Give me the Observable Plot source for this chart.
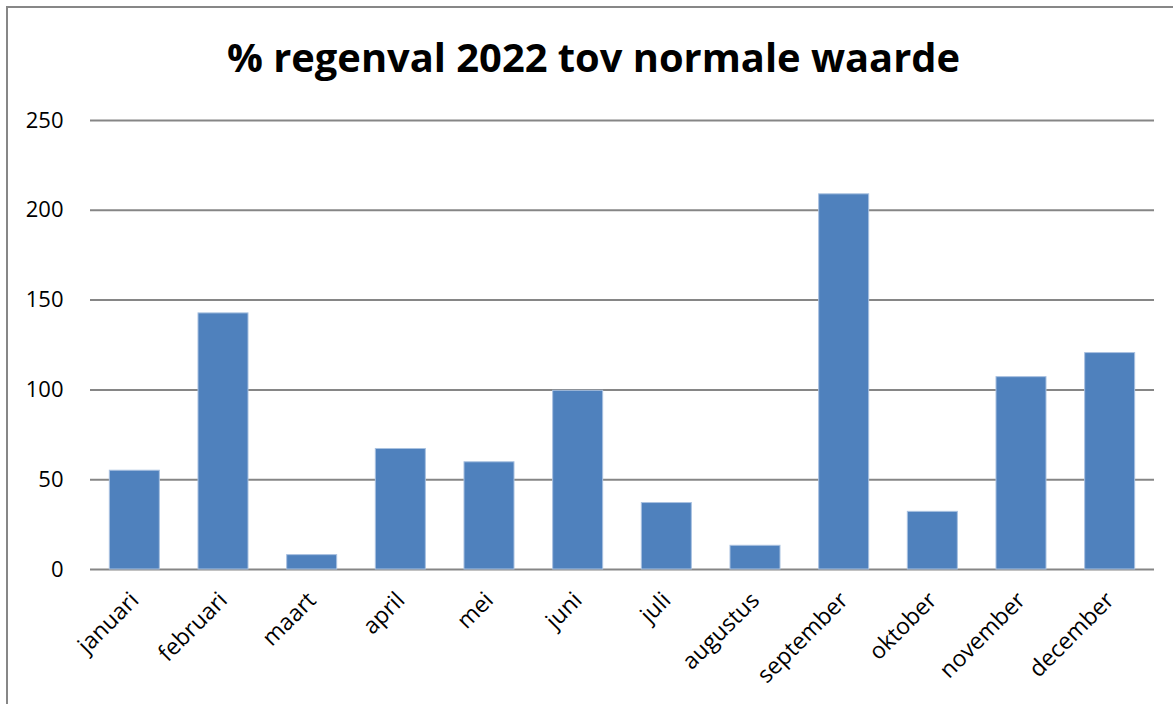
<!DOCTYPE html>
<html>
<head>
<meta charset="utf-8">
<script src="https://cdn.jsdelivr.net/npm/d3@7"></script>
<script src="https://cdn.jsdelivr.net/npm/@observablehq/plot@0.6"></script>
<style>
  html, body { margin: 0; padding: 0; background: #fff; overflow: hidden; }
  #frame { position: absolute; left: 6px; top: 6px; width: 1400px; height: 900px; border: 2px solid #878787; box-sizing: border-box; }
  #title { position: absolute; left: 0; top: 0; }
  #chart { position: absolute; left: 0; top: 0; }
</style>
</head>
<body>
<div id="frame"></div>
<svg id="title" width="1173" height="110"></svg>
<div id="chart"></div>
<script>
const titleText = "% regenval 2022 tov normale waarde";
const months = ["januari","februari","maart","april","mei","juni","juli","augustus","september","oktober","november","december"];
const values = [55.0, 142.6, 8.0, 67.1, 59.7, 99.5, 37.0, 13.2, 208.9, 32.1, 107.1, 120.5];
const yTicks = [0, 50, 100, 150, 200, 250];

const data = months.map((m, i) => ({month: m, value: values[i]}));

d3.select("#title").append("text")
  .attr("x", 593.5).attr("y", 72)
  .attr("text-anchor", "middle")
  .attr("font-family", "'Open Sans', sans-serif")
  .attr("font-weight", "bold")
  .attr("font-size", 40)
  .attr("textLength", 733)
  .attr("lengthAdjust", "spacingAndGlyphs")
  .attr("fill", "#000")
  .text(titleText);

const chart = Plot.plot({
  width: 1173,
  height: 704,
  marginLeft: 90,
  marginRight: 19,
  marginTop: 120,
  marginBottom: 135,
  style: { fontFamily: "'Open Sans', sans-serif", fontSize: "22px", color: "#000", background: "transparent", overflow: "visible" },
  x: { domain: months, paddingInner: 0.436, paddingOuter: 0.218, align: 0.5, round: false, label: null },
  y: { domain: [0, 250], label: null },
  marks: [
    Plot.ruleY(yTicks, { stroke: "#868686", strokeWidth: 2 }),
    Plot.barY(data, { x: "month", y: "value", fill: "#4F81BD", stroke: "#A9C1E0", strokeWidth: 1 }),
    Plot.axisY({ ticks: yTicks, tickSize: 0, tickPadding: 27, fill: "#000", fontSize: 22 }),
    Plot.axisX({ tickSize: 0, tickRotate: -45, tickPadding: 27, fill: "#000", fontSize: 23 })
  ]
});
document.getElementById("chart").appendChild(chart);
</script>
</body>
</html>
